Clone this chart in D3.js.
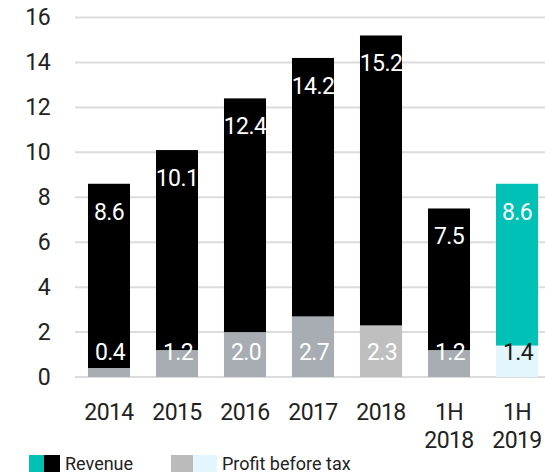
<!DOCTYPE html>
<html>
<head>
<meta charset="utf-8">
<script src="https://cdn.jsdelivr.net/npm/d3@7"></script>
<style>
  html, body { margin: 0; padding: 0; background: #fff; }
  svg { display: block; font-family: Roboto, "Noto Sans", sans-serif; }
</style>
</head>
<body>
<svg id="chart" width="545" height="475"></svg>
<script>
// Revenue and profit before tax, by period (values in the chart's units)
const categories = ["2014", "2015", "2016", "2017", "2018", "1H 2018", "1H 2019"];
const revenue = [8.6, 10.1, 12.4, 14.2, 15.2, 7.5, 8.6];
const profit = [0.4, 1.2, 2.0, 2.7, 2.3, 1.2, 1.4];
const yTicks = [0, 2, 4, 6, 8, 10, 12, 14, 16];

const revenueColors = ["#000000", "#000000", "#000000", "#000000", "#000000", "#000000", "#00c1b5"];
const profitColors = ["#a7adb2", "#a7adb2", "#a7adb2", "#a7adb2", "#bfbfbf", "#a7adb2", "#e3f6fd"];
const profitLabelColors = ["#ffffff", "#ffffff", "#ffffff", "#ffffff", "#ffffff", "#ffffff", "#1a1a1a"];

const svg = d3.select("#chart");
const textColor = "#222222";
const fontSize = 23;

const x = d3.scaleBand()
  .domain(categories)
  .range([75, 551])
  .paddingInner(0.382)
  .paddingOuter(0.191);

const y = d3.scaleLinear()
  .domain([0, 16])
  .range([377, 17.5]);

// Gridlines
svg.append("g")
  .selectAll("line")
  .data(yTicks)
  .join("line")
  .attr("x1", 75)
  .attr("x2", 545)
  .attr("y1", d => y(d))
  .attr("y2", d => y(d))
  .attr("stroke", "#dcdcdc")
  .attr("stroke-width", 2);

// Y axis labels
const yAxis = d3.axisLeft(y).tickValues(yTicks).tickSize(0).tickPadding(0).tickFormat(d3.format("d"));
const yg = svg.append("g").attr("transform", "translate(50,0)").call(yAxis);
yg.select(".domain").remove();
yg.selectAll("text")
  .attr("font-size", fontSize)
  .attr("font-family", "Roboto, sans-serif")
  .attr("letter-spacing", "-0.6px")
  .attr("fill", textColor);

// Revenue bars
svg.append("g")
  .selectAll("rect")
  .data(categories)
  .join("rect")
  .attr("x", d => x(d))
  .attr("width", x.bandwidth())
  .attr("y", (d, i) => y(revenue[i]))
  .attr("height", (d, i) => y(0) - y(revenue[i]))
  .attr("fill", (d, i) => revenueColors[i]);

// Profit bars, drawn over the base of each revenue bar
svg.append("g")
  .selectAll("rect")
  .data(categories)
  .join("rect")
  .attr("x", d => x(d))
  .attr("width", x.bandwidth())
  .attr("y", (d, i) => y(profit[i]))
  .attr("height", (d, i) => y(0) - y(profit[i]))
  .attr("fill", (d, i) => profitColors[i]);

// Revenue value labels, just inside the top of each bar
svg.append("g")
  .selectAll("text")
  .data(categories)
  .join("text")
  .attr("x", d => x(d) + x.bandwidth() / 2)
  .attr("y", (d, i) => y(revenue[i]) + 36)
  .attr("text-anchor", "middle")
  .attr("font-size", fontSize)
  .attr("letter-spacing", "-0.6px")
  .attr("fill", "#ffffff")
  .text((d, i) => revenue[i].toFixed(1));

// Profit value labels, along the base of each bar
svg.append("g")
  .selectAll("text")
  .data(categories)
  .join("text")
  .attr("x", d => x(d) + x.bandwidth() / 2 + 1)
  .attr("y", y(0) - 17)
  .attr("text-anchor", "middle")
  .attr("font-size", fontSize)
  .attr("letter-spacing", "-0.6px")
  .attr("fill", (d, i) => profitLabelColors[i])
  .text((d, i) => profit[i].toFixed(1));

// X axis labels (two lines for half-year periods)
const xg = svg.append("g");
categories.forEach(c => {
  const parts = c.split(" ");
  const t = xg.append("text")
    .attr("x", x(c) + x.bandwidth() / 2)
    .attr("y", 420)
    .attr("text-anchor", "middle")
    .attr("font-size", fontSize)
    .attr("letter-spacing", "-0.6px")
    .attr("fill", textColor);
  parts.forEach((p, k) => {
    t.append("tspan")
      .attr("x", x(c) + x.bandwidth() / 2)
      .attr("dy", k === 0 ? 0 : 28)
      .text(p);
  });
});

// Legend
const legendItems = [
  { label: "Revenue", colors: ["#00c1b5", "#000000"], x: 29, widths: [15, 16] },
  { label: "Profit before tax", colors: ["#bbbbbb", "#e3f6fd"], x: 171, widths: [22, 24] }
];
const lg = svg.append("g");
legendItems.forEach(item => {
  let cx = item.x;
  item.colors.forEach((c, k) => {
    lg.append("rect")
      .attr("x", cx)
      .attr("y", 455)
      .attr("width", item.widths[k])
      .attr("height", 17)
      .attr("fill", c);
    cx += item.widths[k];
  });
  lg.append("text")
    .attr("x", cx + 5)
    .attr("y", 469.5)
    .attr("font-size", 18)
    .attr("fill", textColor)
    .text(item.label);
});
</script>
</body>
</html>
